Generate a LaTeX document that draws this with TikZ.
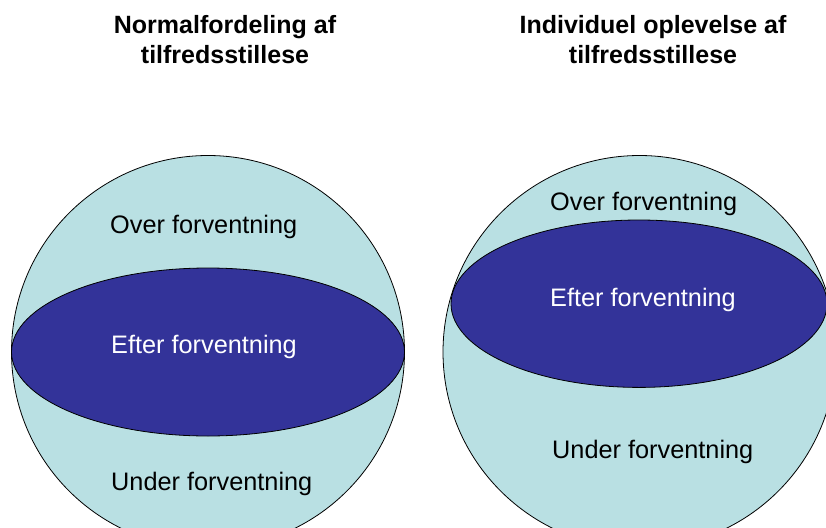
\documentclass[tikz,border=0pt]{standalone}
\usepackage{fontspec}
\setmainfont{Liberation Sans}
\definecolor{paleblue}{RGB}{185,224,227}
\definecolor{darkblue}{RGB}{51,51,153}
\begin{document}
\begin{tikzpicture}[x=1pt,y=-1pt,
  sphere/.style={fill=paleblue,draw=black,line width=0.8pt},
  band/.style={fill=darkblue,draw=black,line width=0.8pt},
  lbl/.style={anchor=base west,inner sep=0pt,font=\fontsize{25.3}{30}\selectfont},
  ttl/.style={align=center,inner sep=0pt,font=\bfseries\fontsize{25}{30}\selectfont}]
\useasboundingbox (0,0) rectangle (826,527);
\clip (0,0) rectangle (826,527);
% left
\draw[sphere] (208,352) circle (196.5);
\draw[band] (208,352) ellipse (196.5 and 84);
% right
\draw[sphere] (639.5,352) circle (196.5);
\draw[band] (639,303.7) ellipse (188 and 83.7);
% titles
\node[ttl,anchor=north] (t1) at (225,15) {Normalfordeling af\\tilfredsstillese};
\node[ttl,anchor=north] (t2) at (653,15) {Individuel oplevelse af\\tilfredsstillese};
% labels left
\node[lbl] (lo) at (110,233) {Over forventning};
\node[lbl,text=white] (le) at (111,353) {Efter forventning};
\node[lbl] (lu) at (111,490) {Under forventning};
% labels right
\node[lbl] (ro) at (550,210) {Over forventning};
\node[lbl,text=white] (re) at (550,306) {Efter forventning};
\node[lbl] (ru) at (552,458) {Under forventning};
\end{tikzpicture}
\end{document}
